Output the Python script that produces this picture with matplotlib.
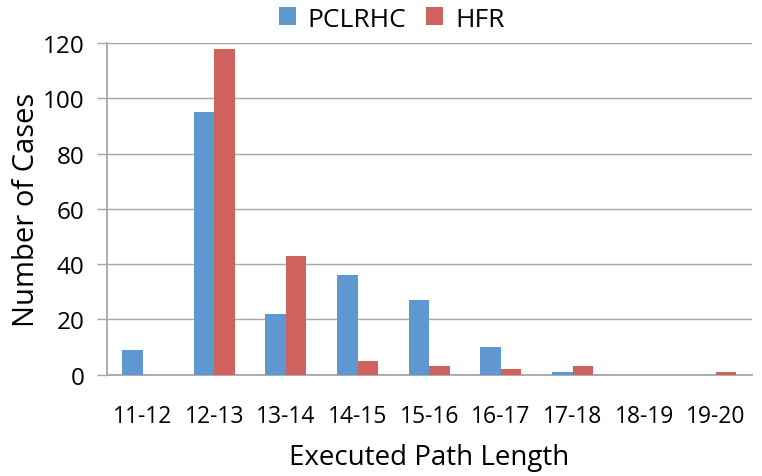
import matplotlib
matplotlib.use("Agg")
import matplotlib.pyplot as plt
import numpy as np

categories = ["11-12", "12-13", "13-14", "14-15", "15-16", "16-17", "17-18", "18-19", "19-20"]
pclrhc = [9, 95, 22, 36, 27, 10, 1, 0, 0]
hfr = [0, 118, 43, 5, 3, 2, 3, 0, 1]
yticks = [0, 20, 40, 60, 80, 100, 120]

plt.rcParams['font.family'] = ['Open Sans', 'DejaVu Sans']

fig = plt.figure(figsize=(7.62, 4.77), dpi=100)
ax = fig.add_axes([0.140, 0.2124, 0.8465, 0.6954])

x = np.arange(len(categories))
w = 0.285
blue = "#5F97D1"
red = "#D0625D"
ax.bar(x - w / 2, pclrhc, width=w, color=blue, label="PCLRHC", zorder=3)
ax.bar(x + w / 2, hfr, width=w, color=red, label="HFR", zorder=3)

ax.set_xlim(-0.5, len(categories) - 0.5)
ax.set_ylim(0, 120)
ax.set_yticks(yticks)
ax.set_xticks(x)
ax.set_xticklabels(categories)
ax.yaxis.grid(True, color="#A6A6A6", linewidth=1.0, zorder=0)
for s in ["top", "right"]:
    ax.spines[s].set_visible(False)
for s in ["left", "bottom"]:
    ax.spines[s].set_color("#A6A6A6")
    ax.spines[s].set_linewidth(1.3)
ax.tick_params(axis="y", length=7, width=1.0, color="#A6A6A6", labelsize=17.5, pad=9)
ax.tick_params(axis="x", length=0, labelsize=16.5, pad=21)
ax.set_xlabel("Executed Path Length", fontsize=20, labelpad=11)
ax.set_ylabel("Number of Cases", fontsize=21, labelpad=1)

fig.legend(*ax.get_legend_handles_labels(), loc="center", bbox_to_anchor=(0.514, 0.958),
           ncol=2, frameon=False,
           fontsize=19, handlelength=0.65, handleheight=0.65, handletextpad=0.45,
           columnspacing=0.75, borderaxespad=0, borderpad=0)

fig.savefig("out.png", dpi=100)
